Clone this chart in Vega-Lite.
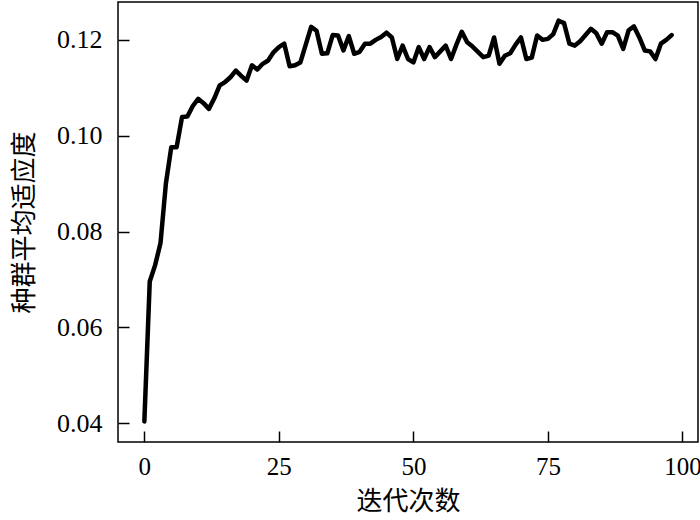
{
  "$schema": "https://vega.github.io/schema/vega-lite/v6.json",
  "width": 580,
  "height": 440,
  "autosize": "none",
  "padding": {"left": 118, "top": 2, "right": 2, "bottom": 78},
  "background": "white",
  "config": {
    "view": {"stroke": "black", "strokeWidth": 1.5},
    "axis": {
      "domain": false,
      "grid": false,
      "tickColor": "black",
      "tickWidth": 1.5,
      "tickSize": -11,
      "labelFont": "Liberation Serif",
      "labelFontSize": 26,
      "labelColor": "black",
      "labelFlush": false,
      "titleFont": "Noto Sans CJK SC",
      "titleFontSize": 26,
      "titleFontWeight": "normal",
      "titleColor": "black"
    }
  },
  "data": {
    "values": [
      {"iter": 0, "fit": 0.0404}, {"iter": 1, "fit": 0.0696}, {"iter": 2, "fit": 0.0730}, {"iter": 3, "fit": 0.0776},
      {"iter": 4, "fit": 0.0900}, {"iter": 5, "fit": 0.0976}, {"iter": 6, "fit": 0.0976}, {"iter": 7, "fit": 0.1039},
      {"iter": 8, "fit": 0.1040}, {"iter": 9, "fit": 0.1062}, {"iter": 10, "fit": 0.1077}, {"iter": 11, "fit": 0.1068},
      {"iter": 12, "fit": 0.1056}, {"iter": 13, "fit": 0.1078}, {"iter": 14, "fit": 0.1105}, {"iter": 15, "fit": 0.1112},
      {"iter": 16, "fit": 0.1122}, {"iter": 17, "fit": 0.1136}, {"iter": 18, "fit": 0.1125}, {"iter": 19, "fit": 0.1115},
      {"iter": 20, "fit": 0.1147}, {"iter": 21, "fit": 0.1138}, {"iter": 22, "fit": 0.1150}, {"iter": 23, "fit": 0.1157},
      {"iter": 24, "fit": 0.1174}, {"iter": 25, "fit": 0.1185}, {"iter": 26, "fit": 0.1192}, {"iter": 27, "fit": 0.1145},
      {"iter": 28, "fit": 0.1147}, {"iter": 29, "fit": 0.1153}, {"iter": 30, "fit": 0.1190}, {"iter": 31, "fit": 0.1227},
      {"iter": 32, "fit": 0.1219}, {"iter": 33, "fit": 0.1171}, {"iter": 34, "fit": 0.1172}, {"iter": 35, "fit": 0.1210},
      {"iter": 36, "fit": 0.1209}, {"iter": 37, "fit": 0.1178}, {"iter": 38, "fit": 0.1208}, {"iter": 39, "fit": 0.1171},
      {"iter": 40, "fit": 0.1175}, {"iter": 41, "fit": 0.1192}, {"iter": 42, "fit": 0.1192}, {"iter": 43, "fit": 0.1200},
      {"iter": 44, "fit": 0.1206}, {"iter": 45, "fit": 0.1215}, {"iter": 46, "fit": 0.1205}, {"iter": 47, "fit": 0.1160},
      {"iter": 48, "fit": 0.1188}, {"iter": 49, "fit": 0.1160}, {"iter": 50, "fit": 0.1153}, {"iter": 51, "fit": 0.1185},
      {"iter": 52, "fit": 0.1160}, {"iter": 53, "fit": 0.1185}, {"iter": 54, "fit": 0.1164}, {"iter": 55, "fit": 0.1176},
      {"iter": 56, "fit": 0.1188}, {"iter": 57, "fit": 0.1160}, {"iter": 58, "fit": 0.1190}, {"iter": 59, "fit": 0.1217},
      {"iter": 60, "fit": 0.1195}, {"iter": 61, "fit": 0.1186}, {"iter": 62, "fit": 0.1175}, {"iter": 63, "fit": 0.1164},
      {"iter": 64, "fit": 0.1167}, {"iter": 65, "fit": 0.1205}, {"iter": 66, "fit": 0.1150}, {"iter": 67, "fit": 0.1167},
      {"iter": 68, "fit": 0.1172}, {"iter": 69, "fit": 0.1190}, {"iter": 70, "fit": 0.1205}, {"iter": 71, "fit": 0.1160},
      {"iter": 72, "fit": 0.1163}, {"iter": 73, "fit": 0.1209}, {"iter": 74, "fit": 0.1200}, {"iter": 75, "fit": 0.1202},
      {"iter": 76, "fit": 0.1212}, {"iter": 77, "fit": 0.1240}, {"iter": 78, "fit": 0.1235}, {"iter": 79, "fit": 0.1192},
      {"iter": 80, "fit": 0.1188}, {"iter": 81, "fit": 0.1197}, {"iter": 82, "fit": 0.1210}, {"iter": 83, "fit": 0.1223},
      {"iter": 84, "fit": 0.1214}, {"iter": 85, "fit": 0.1192}, {"iter": 86, "fit": 0.1216}, {"iter": 87, "fit": 0.1216},
      {"iter": 88, "fit": 0.1209}, {"iter": 89, "fit": 0.1181}, {"iter": 90, "fit": 0.1220}, {"iter": 91, "fit": 0.1228},
      {"iter": 92, "fit": 0.1205}, {"iter": 93, "fit": 0.1178}, {"iter": 94, "fit": 0.1176}, {"iter": 95, "fit": 0.1160},
      {"iter": 96, "fit": 0.1192}, {"iter": 97, "fit": 0.1200}, {"iter": 98, "fit": 0.1210}
    ]
  },
  "mark": {"type": "line", "color": "black", "strokeWidth": 4.5, "strokeJoin": "round", "strokeCap": "round"},
  "encoding": {
    "x": {
      "field": "iter",
      "type": "quantitative",
      "scale": {"domain": [-4.9, 102.9], "nice": false, "zero": false},
      "axis": {"values": [0, 25, 50, 75, 100], "title": "迭代次数", "labelFontSize": 25, "labelPadding": 23, "titlePadding": 9}
    },
    "y": {
      "field": "fit",
      "type": "quantitative",
      "scale": {"domain": [0.0361, 0.1279], "nice": false, "zero": false},
      "axis": {"values": [0.04, 0.06, 0.08, 0.1, 0.12], "format": ".2f", "title": "种群平均适应度", "labelPadding": 27, "titlePadding": 19}
    }
  }
}
